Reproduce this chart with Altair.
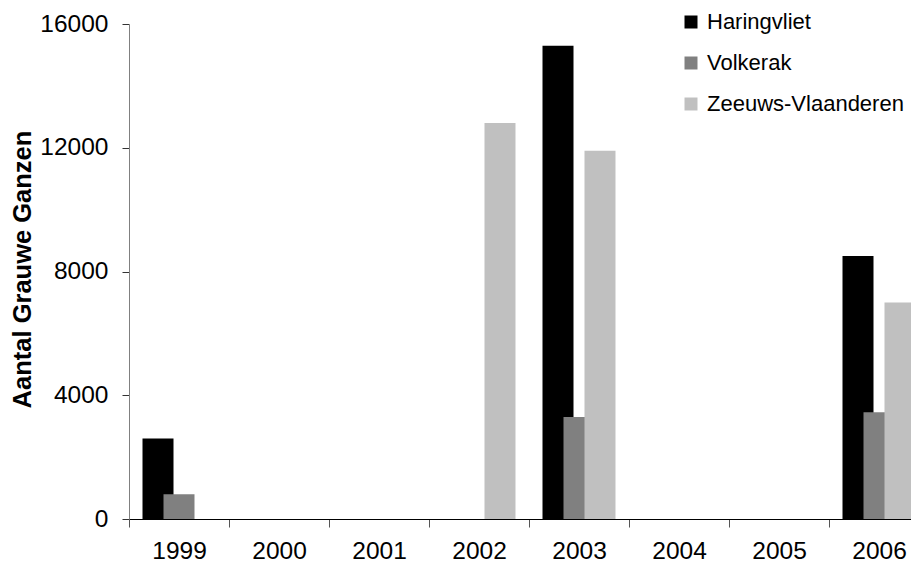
import altair as alt
import pandas as pd

years = ["1999", "2000", "2001", "2002", "2003", "2004", "2005", "2006"]
series = ["Haringvliet", "Volkerak", "Zeeuws-Vlaanderen"]
haringvliet = [2600, 0, 0, 0, 15300, 0, 0, 8500]
volkerak = [800, 0, 0, 0, 3300, 0, 0, 3450]
zeeuws = [0, 0, 0, 12800, 11900, 0, 0, 7000]
colors = ["#000000", "#808080", "#C0C0C0"]
y_ticks = [0, 4000, 8000, 12000, 16000]

rows = []
for name, vals in zip(series, [haringvliet, volkerak, zeeuws]):
    for yr, v in zip(years, vals):
        if v > 0:
            rows.append({"Jaar": yr, "Gebied": name, "Aantal": v})
df = pd.DataFrame(rows)

FONT = "Liberation Sans"

chart = alt.Chart(df).mark_bar(width=31).encode(
    x=alt.X(
        "Jaar:N",
        sort=years,
        scale=alt.Scale(domain=years, range=[0, 800], paddingInner=0, paddingOuter=0),
        axis=alt.Axis(
            title=None, labelAngle=0, tickBand="extent", labelFontSize=24.5,
            labelPadding=12, tickSize=8, domainColor="#000000", tickColor="#555555",
            labelColor="#000000", labelFont=FONT, domainWidth=1, tickWidth=1,
        ),
    ),
    xOffset=alt.XOffset(
        "Gebied:N",
        scale=alt.Scale(domain=series, paddingInner=0, paddingOuter=0.881),
    ),
    y=alt.Y(
        "Aantal:Q",
        stack=None,
        scale=alt.Scale(domain=[0, 16000], nice=False),
        axis=alt.Axis(
            values=y_ticks, format="d", title="Aantal Grauwe Ganzen",
            titleFontSize=25.5, titleFontWeight="bold", titleFont=FONT,
            titleColor="#000000", titleX=-94, titleY=245,
            labelFontSize=24.5, labelFont=FONT, labelColor="#000000",
            labelPadding=14, tickSize=7, domainColor="#808080",
            tickColor="#333333", grid=False,
        ),
    ),
    color=alt.Color(
        "Gebied:N",
        scale=alt.Scale(domain=series, range=colors),
        legend=alt.Legend(
            title=None, orient="none", legendX=551, legendY=-13,
            symbolType="square", symbolSize=169, symbolStrokeWidth=0,
            labelFontSize=22, labelFont=FONT, labelColor="#000000",
            labelOffset=5, rowPadding=19, padding=0, labelLimit=400,
        ),
    ),
).properties(
    width=782,
    height=495,
    autosize=alt.AutoSizeParams(type="none"),
    padding={"left": 121, "top": 16, "right": 0, "bottom": 45},
).configure(font=FONT).configure_view(stroke=None)

chart.save("out.html", embed_options={"renderer": "svg", "actions": False})
